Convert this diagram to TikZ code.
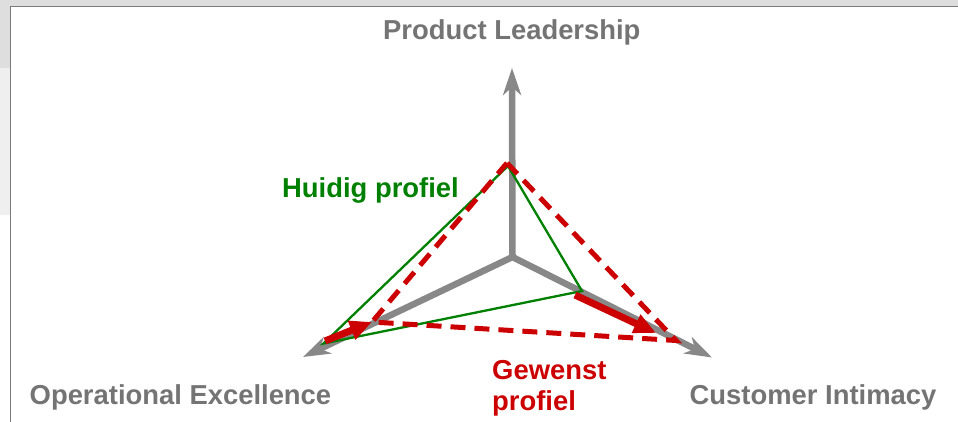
\documentclass[tikz,border=0pt]{standalone}
\usepackage{fontspec}
\setmainfont{Liberation Sans}
\usetikzlibrary{arrows.meta}
\definecolor{axisgray}{HTML}{888888}
\definecolor{labelgray}{HTML}{747474}
\definecolor{curgreen}{HTML}{008000}
\definecolor{wantred}{HTML}{CC0000}
\definecolor{framegray}{HTML}{7A7A7A}
\definecolor{bggray}{HTML}{DEDEDE}
\definecolor{bglight}{HTML}{EFEFEF}
\tikzset{
  axisline/.style={draw=axisgray, line width=6.5pt, -{Stealth[length=27pt,width=18pt,inset=8pt]}},
  greenline/.style={draw=curgreen, line width=2.3pt, line join=miter},
  reddash/.style={draw=wantred, line width=5pt, dash pattern=on 15pt off 9pt, line join=miter},
  redarrow/.style={draw=wantred, line width=7pt, -{Triangle[length=22pt,width=19pt]}},
  lbl/.style={inner sep=0pt, anchor=base west, font=\fontsize{27.4}{31}\selectfont\bfseries}
}
\begin{document}
\begin{tikzpicture}[x=1pt,y=-1pt]
\useasboundingbox (0,0) rectangle (958,422);
% background
\fill[white] (0,0) rectangle (958,422);
\fill[bggray] (0,0) rectangle (958,6.5);
\fill[bggray] (0,0) rectangle (10,68);
\fill[bglight] (0,68) rectangle (10,215);
\draw[framegray, line width=1.6pt] (10.5,422) -- (10.5,6.5) -- (958,6.5);

% axes
\coordinate (O) at (512.5,257);
\coordinate (PL) at (512,68);
\coordinate (OE) at (303,357);
\coordinate (CI) at (712,357.5);
\draw[axisline] (O) -- (PL);
\draw[axisline] (O) -- (OE);
\draw[axisline] (O) -- (CI);

% current profile (green)
\coordinate (g1) at (508,166);
\coordinate (g2) at (582,291);
\coordinate (g3) at (323.5,343.5);
\draw[greenline] (g1) -- (g2) -- (g3) -- cycle;

% desired profile (red dashed)
\coordinate (r1) at (507,163);
\coordinate (r2) at (676,340.5);
\coordinate (r3) at (372,322);
\draw[reddash] (r1) -- (r2) -- (r3) -- cycle;

% shift arrows
\coordinate (a1s) at (325,341);
\coordinate (a1e) at (372,322);
\coordinate (a2s) at (575,295);
\coordinate (a2e) at (656,333);
\draw[redarrow] (a1s) -- (a1e);
\draw[redarrow] (a2s) -- (a2e);

% labels
\node[lbl, text=labelgray] (tPL) at (383,39.3) {Product Leadership};
\node[lbl, text=labelgray] (tOE) at (29.5,404) {Operational Excellence};
\node[lbl, text=labelgray] (tCI) at (689.5,404) {Customer Intimacy};
\node[lbl, text=curgreen] (tHP) at (282,197.3) {Huidig profiel};
\node[lbl, text=wantred] (tGP1) at (492,379.3) {Gewenst};
\node[lbl, text=wantred] (tGP2) at (492,410) {profiel};
\end{tikzpicture}
\end{document}
